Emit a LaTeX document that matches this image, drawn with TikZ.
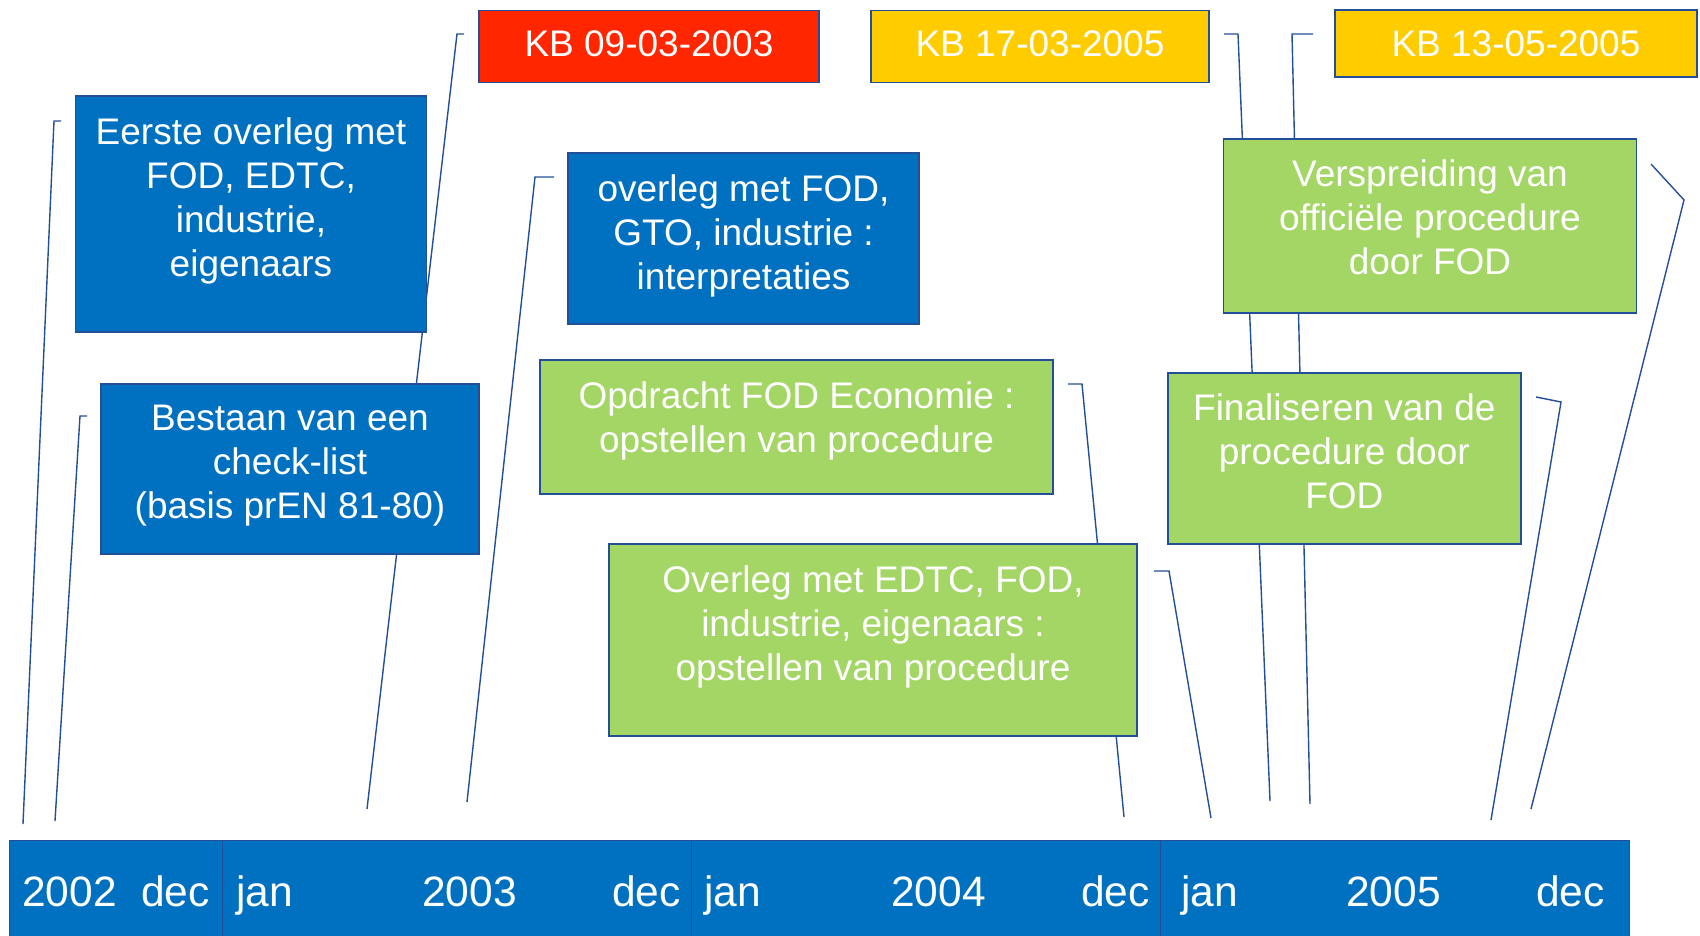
\documentclass[tikz,border=0pt]{standalone}
\usepackage{fontspec}
\setmainfont{Liberation Sans}
\usetikzlibrary{positioning}
\definecolor{ovblue}{RGB}{0,112,192}
\definecolor{ovgreen}{RGB}{163,214,101}
\definecolor{ovred}{RGB}{255,38,0}
\definecolor{ovyellow}{RGB}{255,204,0}
\definecolor{ovedge}{RGB}{35,78,152}

\begin{document}
\begin{tikzpicture}[x=1pt,y=-1pt,
  box/.style={draw=ovedge,line width=1.8pt,inner sep=0pt},
  tekst/.style={text=white,align=center,inner sep=0pt,font=\fontsize{37}{44}\selectfont},
  maand/.style={text=white,inner sep=0pt,anchor=base west,font=\fontsize{42.5}{48}\selectfont},
  lijn/.style={draw=ovedge,line width=1.4pt}]
\useasboundingbox (0,0) rectangle (1700,935);
% lijnen naar de tijdas (achter de kaders)
\coordinate (eerste-0) at (23,824); \coordinate (eerste-1) at (54,121); \coordinate (eerste-2) at (61,121);
\draw[lijn] (eerste-0) -- (eerste-1) -- (eerste-2);
\coordinate (check-0) at (55,821); \coordinate (check-1) at (80,416); \coordinate (check-2) at (87,416);
\draw[lijn] (check-0) -- (check-1) -- (check-2);
\coordinate (kb03-0) at (367,809); \coordinate (kb03-1) at (457,34); \coordinate (kb03-2) at (464,34);
\draw[lijn] (kb03-0) -- (kb03-1) -- (kb03-2);
\coordinate (gto-0) at (467,802); \coordinate (gto-1) at (535,177); \coordinate (gto-2) at (554,177);
\draw[lijn] (gto-0) -- (gto-1) -- (gto-2);
\coordinate (opdr-0) at (1124,817); \coordinate (opdr-1) at (1082,384); \coordinate (opdr-2) at (1068,384);
\draw[lijn] (opdr-0) -- (opdr-1) -- (opdr-2);
\coordinate (edtc-0) at (1211,818); \coordinate (edtc-1) at (1169,571); \coordinate (edtc-2) at (1154,571);
\draw[lijn] (edtc-0) -- (edtc-1) -- (edtc-2);
\coordinate (kb17-0) at (1270,801); \coordinate (kb17-1) at (1238,34); \coordinate (kb17-2) at (1224,34);
\draw[lijn] (kb17-0) -- (kb17-1) -- (kb17-2);
\coordinate (kb13-0) at (1310,804); \coordinate (kb13-1) at (1292,34); \coordinate (kb13-2) at (1313,34);
\draw[lijn] (kb13-0) -- (kb13-1) -- (kb13-2);
\coordinate (final-0) at (1491,820); \coordinate (final-1) at (1561,402); \coordinate (final-2) at (1536,397);
\draw[lijn] (final-0) -- (final-1) -- (final-2);
\coordinate (versp-0) at (1531,809); \coordinate (versp-1) at (1684,200); \coordinate (versp-2) at (1651,164);
\draw[lijn] (versp-0) -- (versp-1) -- (versp-2);
% koninklijke besluiten
\node[box,fill=ovred,minimum width=340pt,minimum height=72pt] (kb03) at (649,46.5) {};
\node[tekst,anchor=base] (kb03-tekst) at (649,56.5) {KB 09-03-2003};
\node[box,fill=ovyellow,minimum width=338pt,minimum height=72pt] (kb17) at (1040,46.5) {};
\node[tekst,anchor=base] (kb17-tekst) at (1040,56.5) {KB 17-03-2005};
\node[box,fill=ovyellow,minimum width=362pt,minimum height=67pt] (kb13) at (1516,43.5) {};
\node[tekst,anchor=base] (kb13-tekst) at (1516,56.5) {KB 13-05-2005};
% kaders
\node[box,fill=ovblue,minimum width=351pt,minimum height=236pt] (eerste) at (251,214) {};
\node[tekst,below=22pt of eerste.north] (eerste-tekst) {Eerste overleg met\\FOD, EDTC,\\industrie,\\eigenaars};
\node[box,fill=ovblue,minimum width=351pt,minimum height=171pt] (gto) at (743.5,238.5) {};
\node[tekst,below=22pt of gto.north] (gto-tekst) {overleg met FOD,\\GTO, industrie :\\interpretaties};
\node[box,fill=ovblue,minimum width=378pt,minimum height=170pt] (check) at (290,469) {};
\node[tekst,below=22pt of check.north] (check-tekst) {Bestaan van een\\check-list\\(basis prEN 81-80)};
\node[box,fill=ovgreen,minimum width=513pt,minimum height=134pt] (opdr) at (796.5,427) {};
\node[tekst,below=22pt of opdr.north] (opdr-tekst) {Opdracht FOD Economie :\\opstellen van procedure};
\node[box,fill=ovgreen,minimum width=528pt,minimum height=192pt] (edtc) at (873,640) {};
\node[tekst,below=22pt of edtc.north] (edtc-tekst) {Overleg met EDTC, FOD,\\industrie, eigenaars :\\opstellen van procedure};
\node[box,fill=ovgreen,minimum width=413pt,minimum height=174pt] (versp) at (1430,225.7) {};
\node[tekst,below=22pt of versp.north] (versp-tekst) {Verspreiding van\\officiële procedure\\door FOD};
\node[box,fill=ovgreen,minimum width=353pt,minimum height=171pt] (final) at (1344.3,458.3) {};
\node[tekst,below=22pt of final.north] (final-tekst) {Finaliseren van de\\procedure door\\FOD};
% tijdas
\node[box,fill=ovblue,line width=1pt,minimum width=213pt,minimum height=96pt] (as2002) at (115.5,888.5) {};
\node[box,fill=ovblue,line width=1pt,minimum width=469pt,minimum height=96pt] (as2003) at (456.5,888.5) {};
\node[box,fill=ovblue,line width=1pt,minimum width=469pt,minimum height=96pt] (as2004) at (925.5,888.5) {};
\node[box,fill=ovblue,line width=1pt,minimum width=469pt,minimum height=96pt] (as2005) at (1394.5,888.5) {};
\node[maand] (jaar2002) at (22,906) {2002};
\node[maand] (dec2002) at (141,906) {dec};
\node[maand] (jan2003) at (236,906) {jan};
\node[maand] (jaar2003) at (422,906) {2003};
\node[maand] (dec2003) at (612,906) {dec};
\node[maand] (jan2004) at (704,906) {jan};
\node[maand] (jaar2004) at (891,906) {2004};
\node[maand] (dec2004) at (1081,906) {dec};
\node[maand] (jan2005) at (1181,906) {jan};
\node[maand] (jaar2005) at (1346,906) {2005};
\node[maand] (dec2005) at (1536,906) {dec};
\end{tikzpicture}
\end{document}
